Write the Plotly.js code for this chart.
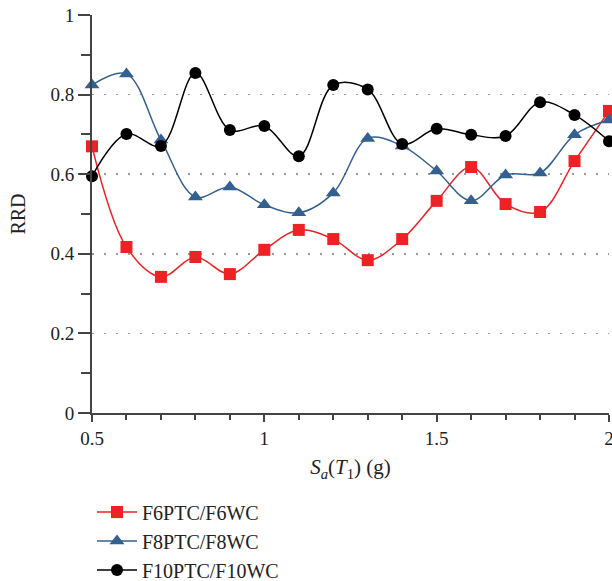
<!DOCTYPE html>
<html><head><meta charset="utf-8">
<script src="https://cdn.plot.ly/plotly-3.0.1.min.js"></script>
<style>html,body{margin:0;padding:0;background:#fff}#chart{width:612px;height:581px}</style>
</head><body><div id="chart"></div>
<script>
const sa = [0.5,0.6,0.7,0.8,0.9,1.0,1.1,1.2,1.3,1.4,1.5,1.6,1.7,1.8,1.9,2.0];
const f6 = [0.670,0.417,0.342,0.392,0.349,0.410,0.460,0.437,0.384,0.437,0.533,0.618,0.525,0.505,0.633,0.759];
const f8 = [0.824,0.852,0.686,0.543,0.568,0.523,0.503,0.553,0.690,0.671,0.608,0.533,0.598,0.603,0.699,0.736];
const f10 = [0.595,0.701,0.671,0.854,0.711,0.721,0.645,0.824,0.813,0.676,0.714,0.699,0.696,0.781,0.749,0.683];
const names = ['F6PTC/F6WC','F8PTC/F8WC','F10PTC/F10WC'];
const colors = ['#ee2224','#34608f','#000000'];
const symbols = ['square','triangle-up','circle'];
const xTicks = [0.5,1,1.5,2];
const xTickText = ['0.5','1','1.5','2'];
const yTicks = [0,0.2,0.4,0.6,0.8,1];
const yTickText = ['0','0.2','0.4','0.6','0.8','1'];
const series = [f6,f8,f10];
const font = 'Liberation Serif, Times New Roman, serif';
const traces = series.map((s,i)=>({
  x: sa, y: s, name: names[i], type:'scatter', mode:'lines+markers',
  line:{color:colors[i], width:1.5, shape:'spline', smoothing:1},
  marker:{symbol:symbols[i], color:colors[i], size: i===1?13:12},
  cliponaxis:false
}));
const layout = {
  width:612, height:581,
  margin:{l:92,r:3,t:15,b:168, autoexpand:false},
  paper_bgcolor:'#fff', plot_bgcolor:'#fff',
  font:{family:font, size:19, color:'#222'},
  showlegend:true,
  legend:{x:0.0, xanchor:'left', y:-0.2, yanchor:'top', orientation:'v',
    font:{family:font, size:20, color:'#222'}, tracegroupgap:0, itemwidth:40},
  xaxis:{range:[0.5,2.0], tickvals:xTicks, ticktext:xTickText, ticklabeloverflow:'allow',
    ticks:'outside', ticklen:7, tickwidth:2, tickcolor:'#444',
    showline:true, linecolor:'#444', linewidth:2, showgrid:false, zeroline:false,
    minor:{dtick:0.1, tick0:0.5, ticks:'outside', ticklen:5, tickwidth:2, tickcolor:'#444', showgrid:false},
    title:{text:'<i>S</i><sub><i>a</i></sub>(<i>T</i><sub>1</sub>) (g)', font:{family:font,size:21,color:'#222'}, standoff:12},
    tickfont:{family:font,size:19,color:'#222'}
  },
  yaxis:{range:[0,1], tickvals:yTicks, ticktext:yTickText,
    ticks:'outside', ticklen:12, tickwidth:2, tickcolor:'#444',
    showline:true, linecolor:'#444', linewidth:2, zeroline:false,
    showgrid:true, gridcolor:'#999', griddash:'2px,10px', gridwidth:1.5,
    minor:{dtick:0.1, tick0:0, ticks:'outside', ticklen:9, tickwidth:2, tickcolor:'#444', showgrid:false},
    title:{text:'RRD', font:{family:font,size:20,color:'#222'}, standoff:19},
    tickfont:{family:font,size:19,color:'#222'}
  }
};
Plotly.newPlot('chart', traces, layout, {displayModeBar:false, staticPlot:true});
</script></body></html>
